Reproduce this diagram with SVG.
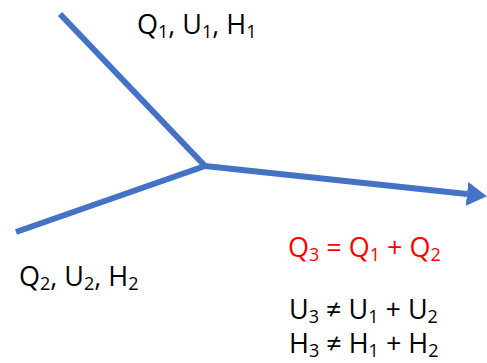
<svg xmlns="http://www.w3.org/2000/svg" width="487" height="363" viewBox="0 0 487 363">
<style>
.t{font-family:"Open Sans","Noto Sans",sans-serif;font-size:27px;fill:#000}
.r{fill:#FF0000}
.s{font-size:18px}
.ln{stroke:#4472C4;stroke-width:6;fill:none}
</style>
<defs>
<marker id="ah" markerUnits="userSpaceOnUse" markerWidth="22" markerHeight="24" refX="0" refY="12" orient="auto">
<path d="M0,0 L20,12 L0,24 Z" fill="#4472C4"/>
</marker>
</defs>
<rect width="487" height="363" fill="#fff"/>
<g id="connectors">
<line class="ln" x1="60" y1="14" x2="205" y2="166"/>
<line class="ln" x1="16" y1="232" x2="205" y2="166"/>
<line class="ln" x1="205" y1="166" x2="467" y2="194" marker-end="url(#ah)"/>
</g>
<g id="label1"><text class="t" x="137" y="34">Q<tspan class="s" dy="4">1</tspan><tspan dy="-4">, U</tspan><tspan class="s" dy="4">1</tspan><tspan dy="-4">, H</tspan><tspan class="s" dy="4">1</tspan></text></g>
<g id="label2"><text class="t" x="19" y="286">Q<tspan class="s" dy="4">2</tspan><tspan dy="-4">, U</tspan><tspan class="s" dy="4">2</tspan><tspan dy="-4">, H</tspan><tspan class="s" dy="4">2</tspan></text></g>
<g id="eq1"><text class="t r" x="288" y="257">Q<tspan class="s" dy="4">3</tspan><tspan dy="-4"> = Q</tspan><tspan class="s" dy="4">1</tspan><tspan dy="-4"> + Q</tspan><tspan class="s" dy="4">2</tspan></text></g>
<g id="eq2"><text class="t" x="289" y="319">U<tspan class="s" dy="4">3</tspan><tspan dy="-4"> ≠ U</tspan><tspan class="s" dy="4">1</tspan><tspan dy="-4"> + U</tspan><tspan class="s" dy="4">2</tspan></text></g>
<g id="eq3"><text class="t" x="289" y="353">H<tspan class="s" dy="4">3</tspan><tspan dy="-4"> ≠ H</tspan><tspan class="s" dy="4">1</tspan><tspan dy="-4"> + H</tspan><tspan class="s" dy="4">2</tspan></text></g>
</svg>
